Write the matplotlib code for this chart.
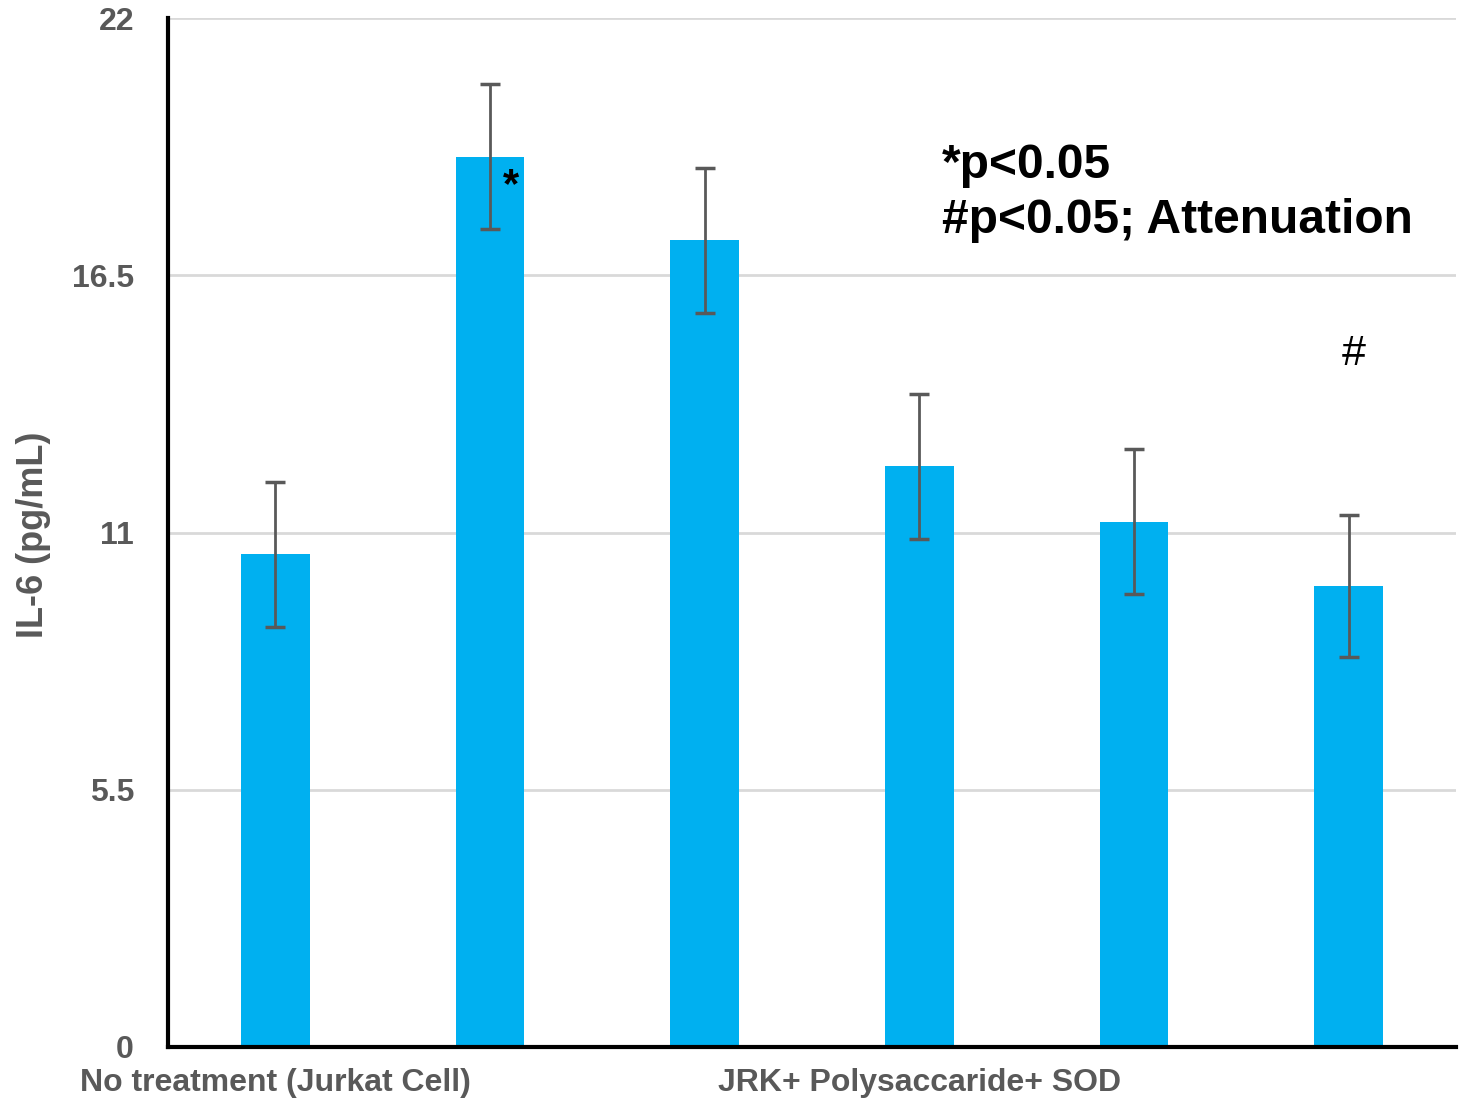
import matplotlib
matplotlib.use("Agg")
import matplotlib.pyplot as plt

categories = ["No treatment (Jurkat Cell)", "", "", "JRK+ Polysaccaride+ SOD", "", ""]
il6_means = [10.54, 19.03, 17.25, 12.42, 11.23, 9.86]
il6_errors = [1.55, 1.55, 1.55, 1.55, 1.55, 1.52]
y_ticks = [0, 5.5, 11, 16.5, 22]
y_tick_labels = ["0", "5.5", "11", "16.5", "22"]

plt.rcParams["font.family"] = ["Liberation Sans", "DejaVu Sans"]

fig = plt.figure(figsize=(14.7, 11), dpi=100)
ax = fig.add_axes([0.1143, 0.0482, 0.8762, 0.9354])

x = list(range(len(il6_means)))
ax.bar(x, il6_means, width=0.32, color="#00B0F0", zorder=3)
ax.errorbar(x, il6_means, yerr=il6_errors, fmt="none", ecolor="#595959",
            elinewidth=2, capsize=7, capthick=2.5, zorder=4)

ax.set_xlim(-0.5, 5.5)
ax.set_ylim(0, 22)
ax.set_yticks(y_ticks)
ax.set_yticklabels(y_tick_labels)
ax.set_xticks(x)
ax.set_xticklabels(categories)
ax.tick_params(axis="both", length=0, labelsize=23, labelcolor="#595959")
ax.tick_params(axis="y", pad=24.5)
ax.tick_params(axis="x", pad=15)
for lab in ax.get_xticklabels() + ax.get_yticklabels():
    lab.set_fontweight("bold")

ax.yaxis.grid(True, color="#D9D9D9", linewidth=2, zorder=0)
ax.set_axisbelow(True)
for side in ("top", "right"):
    ax.spines[side].set_visible(False)
for side in ("left", "bottom"):
    ax.spines[side].set_linewidth(3)
    ax.spines[side].set_color("black")
    ax.spines[side].set_zorder(5)

ax.set_ylabel("IL-6 (pg/mL)", fontsize=26, fontweight="bold", color="#595959")
ax.yaxis.set_label_coords(-0.0908, 0.4976)

# significance markers
ax.text(1.098, 18.18, "*", fontsize=30, fontweight="bold", ha="center", va="baseline", zorder=6)
ax.text(5.025, 14.58, "#", fontsize=31, ha="center", va="baseline", zorder=6)

# legend for the markers
ax.text(3.105, 18.58, "*p<0.05", fontsize=34.5, fontweight="bold",
        ha="left", va="baseline", zorder=6)
ax.text(3.105, 17.40, "#p<0.05; Attenuation", fontsize=34.5, fontweight="bold",
        ha="left", va="baseline", zorder=6)

fig.savefig("out.png", dpi=100, facecolor="white")
